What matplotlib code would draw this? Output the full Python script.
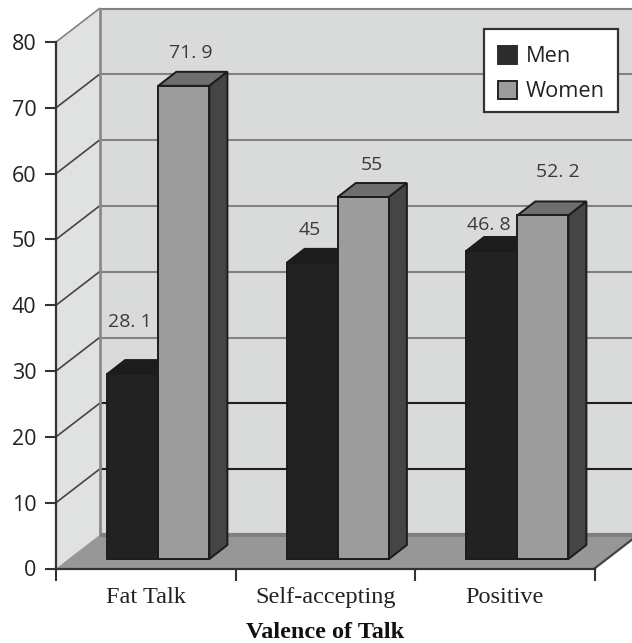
import matplotlib
matplotlib.use("Agg")
import matplotlib.pyplot as plt
from matplotlib.patches import Polygon, Patch, Rectangle
from matplotlib.lines import Line2D
from matplotlib.transforms import Affine2D

categories = ["Fat Talk", "Self-accepting", "Positive"]
men = [28.1, 45, 46.8]
women = [71.9, 55, 52.2]
men_labels = ["28. 1", "45", "46. 8"]
women_labels = ["71. 9", "55", "52. 2"]
y_ticks = [0, 10, 20, 30, 40, 50, 60, 70, 80]
x_title = "Valence of Talk"
series_names = ["Men", "Women"]

W, H = 632, 643
fig = plt.figure(figsize=(W / 100, H / 100), dpi=100, facecolor="white")
L, R, B, T = 56, 594.5, 568.5, 42
ax = fig.add_axes([L / W, 1 - B / H, (R - L) / W, (B - T) / H])
ax.set_xlim(0, 3)
ax.set_ylim(0, 80)
ax.patch.set_visible(False)

def off(dx, dy):
    return ax.transData + Affine2D().translate(dx, dy)

WX, WY = 43.5, 33.5
wall = off(WX, WY)
back_c, side_c, floor_c = "#d9dada", "#e0e1e1", "#979797"

def depth_poly(x0, y0, x1, y1, color, z=1):
    p = [ax.transData.transform(q) for q in [(x0, y0), (x1, y1)]]
    pts = [p[0], p[1], p[1] + (WX, WY), p[0] + (WX, WY)]
    ax.add_patch(Polygon(pts, closed=True, transform=None, facecolor=color,
                         edgecolor="none", lw=0, zorder=z, clip_on=False))

ax.fill([0, 3, 3, 0], [0, 0, 80, 80], color=back_c, transform=wall, zorder=0, clip_on=False, lw=0)
depth_poly(0, 0, 0, 80, side_c, z=1)
depth_poly(0, 0, 3, 0, floor_c, z=2)
ax.plot([0, 3], [0, 0], color="#808080", lw=3, transform=wall, zorder=2.05, clip_on=False,
        solid_capstyle="butt")

grey, dark = "#828282", "#1e1e1e"
for v in y_ticks[1:]:
    c = dark if v <= 20 else grey
    ax.plot([0, 3], [v, v], color=c, lw=1.5, transform=wall, zorder=1.5, clip_on=False,
            solid_capstyle="butt")
    p = ax.transData.transform((0, v))
    ax.add_line(Line2D([p[0], p[0] + WX], [p[1], p[1] + WY], color="#444444" if v < 80 else grey,
                       lw=1.2, transform=None, zorder=1.6, clip_on=False))
ax.plot([0, 0], [0, 80], color="#8a8a8a", lw=2, transform=wall, zorder=1.7, clip_on=False)
p = ax.transData.transform((3, 0))
ax.add_line(Line2D([p[0], p[0] + WX], [p[1], p[1] + WY], color="#444444", lw=1.6,
                   transform=None, zorder=2.1, clip_on=False))

# bars
BX, BY = 12.5, 9.5
SX, SY = 18, 14
bar_w = 0.285
front = off(BX, BY)
pal = {"Men": ("#222222", "#1c1c1c", "#151515"), "Women": ("#9c9c9c", "#6e6e6e", "#454545")}

def draw_bar(x0, x1, v, cols, z):
    fc, top, side = cols
    a = front.transform([(x0, 0), (x1, 0), (x1, v), (x0, v)])
    ec = "#1c1c1c"
    ax.add_patch(Polygon([a[3], a[2], a[2] + (SX, SY), a[3] + (SX, SY)], transform=None,
                         fc=top, ec=ec, lw=1.4, zorder=z, clip_on=False))
    ax.add_patch(Polygon([a[1], a[2], a[2] + (SX, SY), a[1] + (SX, SY)], transform=None,
                         fc=side, ec=ec, lw=1.4, zorder=z, clip_on=False))
    ax.add_patch(Polygon(a, transform=None, fc=fc, ec=ec, lw=1.4, zorder=z + 0.1, clip_on=False))

for i in range(3):
    draw_bar(i + .5 - bar_w, i + .5, men[i], pal["Men"], 3)
    draw_bar(i + .5, i + .5 + bar_w, women[i], pal["Women"], 4)

# value labels (pixel nudges above each bar)
men_nudge = [(-3, 52), (-2, 33), (-3, 26)]
women_nudge = [(7, 33), (9, 32), (15, 43)]
lab_c = "#3a3a3a"
for i in range(3):
    ax.annotate(men_labels[i], (i + .5 - bar_w / 2, men[i]), xycoords=front,
                xytext=(men_nudge[i][0] * .72, men_nudge[i][1] * .72), textcoords="offset points",
                ha="center", va="center", fontsize=14, color=lab_c, family="Open Sans", zorder=6)
    ax.annotate(women_labels[i], (i + .5 + bar_w / 2, women[i]), xycoords=front,
                xytext=(women_nudge[i][0] * .72, women_nudge[i][1] * .72), textcoords="offset points",
                ha="center", va="center", fontsize=14, color=lab_c, family="Open Sans", zorder=6)

# axes furniture
for s in ("top", "right"):
    ax.spines[s].set_visible(False)
for s in ("left", "bottom"):
    ax.spines[s].set_color("#333333")
    ax.spines[s].set_linewidth(1.6)
    ax.spines[s].set_zorder(5)
ax.set_yticks(y_ticks)
ax.set_yticklabels([str(v) for v in y_ticks], family="Open Sans", fontsize=15.5, color="#222222")
ax.tick_params(axis="y", length=8, width=1.5, color="#333333", pad=6)
ax.set_xticks([0, 1, 2, 3])
ax.set_xticklabels([])
ax.tick_params(axis="x", which="major", length=8.5, width=1.5, color="#333333")
ax.set_xticks([.5, 1.5, 2.5], minor=True)
ax.set_xticklabels(categories, minor=True, family="Liberation Serif", fontsize=17.5, color="#222222")
ax.tick_params(axis="x", which="minor", length=0, pad=13)
ax.set_xlabel(x_title, family="Liberation Serif", fontweight="bold", fontsize=17.5, color="#111111", labelpad=10.5)

ax.add_patch(Rectangle((484 / W, 1 - 112 / H), 134 / W, 83 / H, transform=fig.transFigure,
                       fc="white", ec="#333333", lw=1.6, zorder=6.9, clip_on=False))
handles = [Patch(fc="#2c2c2c", ec="#2c2c2c", lw=1.4, label=series_names[0]),
           Patch(fc="#9c9c9c", ec="#222222", lw=1.4, label=series_names[1])]
leg = ax.legend(handles=handles, loc="upper left", bbox_to_anchor=(484 / W, 1 - 32 / H),
                bbox_transform=fig.transFigure, frameon=False,
                prop={"family": "Open Sans", "size": 15.7}, handlelength=.9, handleheight=.9,
                handletextpad=.38, borderpad=.62, labelspacing=.62, borderaxespad=0)
leg.set_zorder(7)
for t in leg.get_texts():
    t.set_color("#222222")

fig.savefig("out.png", dpi=100)
